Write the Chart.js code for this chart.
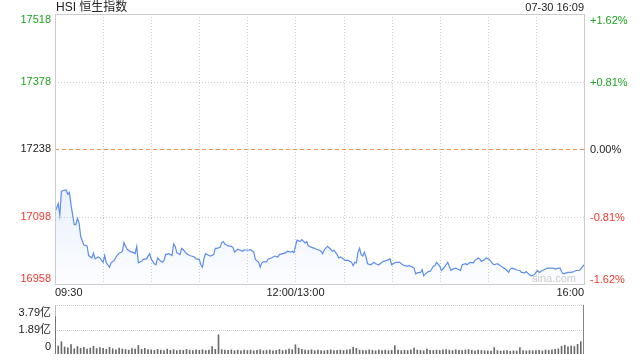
<!DOCTYPE html>
<html><head><meta charset="utf-8">
<script src="https://cdn.jsdelivr.net/npm/chart.js@4.4.1/dist/chart.umd.min.js"></script>
<style>
html,body{margin:0;padding:0;background:#fff;width:640px;height:360px;overflow:hidden}
#c1{position:absolute;left:0;top:0}
#c2{position:absolute;left:0;top:300px}
</style></head><body>
<canvas id="c1" width="640" height="300"></canvas>
<canvas id="c2" width="640" height="60"></canvas>
<script>
const titleText = 'HSI 恒生指数';
const stampText = '07-30 16:09';
const prevClose = 17238;
const priceTicks = [17518, 17378, 17238, 17098, 16958];
const pctTicks = ['+1.62%', '+0.81%', '0.00%', '-0.81%', '-1.62%'];
const timeTickMinutes = [0, 150, 330];
const timeTickLabels = ['09:30', '12:00/13:00', '16:00'];
const volTicks = [3.79, 1.89, 0];
const volTickLabels = ['3.79亿', '1.89亿', '0'];

// trading minutes since 09:30 (lunch break removed) and index level
const minutes = [0,2,3,4,5,7,8,9,10,12,13,14,15,16,18,20,21,23,24,25,27,28,30,31,32,34,35,37,38,40,42,43,45,47,49,50,51,52,54,55,57,59,60,62,63,64,66,67,68,69,71,73,74,75,76,78,79,80,82,84,85,87,88,90,91,92,93,94,96,97,99,100,101,103,104,105,106,108,110,111,112,114,115,117,118,121,122,124,125,127,128,129,130,132,133,135,137,139,140,142,144,145,147,148,149,150,151,153,154,156,157,158,160,162,163,165,166,167,168,170,172,173,174,176,177,178,180,181,183,185,186,187,188,189,190,191,192,193,194,195,197,199,200,202,204,205,207,209,210,212,213,215,216,218,220,221,223,224,225,226,228,229,230,231,233,234,236,237,238,240,241,242,244,245,247,248,250,251,253,254,256,257,259,261,262,264,265,266,268,269,271,273,274,276,277,279,280,282,283,284,285,287,288,290,291,293,294,296,297,299,300,301,302,303,304,306,307,309,311,312,314,315,316,317,319,320,322,324,325,327,328,330];
const prices = [17107,17125,17101,17150,17152,17153,17144,17148,17122,17081,17081,17094,17085,17057,17039,17037,17017,17012,17022,17010,17014,17012,17003,17017,17002,16993,17002,17007,17014,17022,17025,17044,17030,17025,17023,17021,17036,17002,17005,17009,17010,17021,17010,17000,16998,17012,17005,17003,17007,17019,17021,17017,17041,17036,17023,17019,17032,17029,17021,17017,17016,17014,17010,17009,16998,16993,17012,17021,17017,17016,17019,17032,17032,17034,17044,17046,17041,17037,17036,17034,17024,17030,17029,17026,17029,17028,17029,17024,17009,17003,16993,17002,17004,17004,17010,17012,17016,17014,17019,17021,17023,17026,17024,17026,17023,17036,17049,17046,17050,17043,17046,17037,17034,17032,17030,17028,17026,17021,17029,17036,17030,17026,17028,17019,17012,17014,17010,17007,17007,17003,16996,17003,17002,17023,17032,17019,17016,17024,17014,17000,16998,17003,17000,16998,17003,17005,17007,17010,16998,17002,17003,17003,17000,16996,16995,16996,16993,16991,16979,16981,16982,16988,16975,16979,16984,16984,16995,16996,17003,16995,16986,16989,16998,17003,16986,16989,16991,16989,16986,16998,17000,16998,17003,17002,17007,17012,17010,17005,17009,17012,17009,17000,16998,17000,16998,16993,16991,16986,16982,16989,16991,16989,16987,16986,16982,16981,16984,16977,16975,16977,16982,16986,16982,16984,16986,16989,16991,16991,16991,16989,16991,16991,16984,16979,16981,16982,16982,16984,16986,16986,16989,16998];

// volume (亿) every 2 trading minutes from 09:30 to 16:00
const volumes = [
 2.89,0.62,0.95,0.55,0.48,0.72,0.40,0.58,0.45,0.52,0.38,0.47,0.60,0.42,0.50,
 0.44,0.36,0.52,0.41,0.33,0.46,0.39,0.35,0.30,0.42,0.38,0.66,0.36,0.44,0.34,
 0.32,0.28,0.35,0.30,0.27,0.38,0.29,0.33,0.26,0.31,0.28,0.35,0.30,0.27,0.32,
 0.29,0.33,0.27,0.31,0.58,0.36,1.48,0.34,0.30,0.28,0.32,0.26,0.29,0.25,0.31,
 0.27,0.30,0.24,0.28,0.33,0.26,0.29,0.31,0.25,0.28,0.35,0.27,0.30,0.38,0.33,
 0.72,0.45,0.36,0.31,0.28,0.33,0.26,0.30,0.27,0.25,0.29,0.32,0.26,0.28,0.30,
 0.27,0.31,0.35,0.52,0.44,0.30,0.28,0.26,0.32,0.29,0.25,0.31,0.27,0.30,0.26,
 0.28,0.66,0.30,0.26,0.29,0.27,0.33,0.45,0.31,0.28,0.25,0.38,0.29,0.27,0.30,
 0.28,0.32,0.35,0.30,0.27,0.33,0.29,0.26,0.31,0.34,0.28,0.25,0.30,0.27,0.26,
 0.25,0.23,0.50,0.26,0.22,0.24,0.27,0.21,0.25,0.23,0.50,0.26,0.24,0.27,0.25,
 0.26,0.29,0.24,0.31,0.28,0.33,0.36,0.40,0.60,0.68,0.55,0.62,0.58,0.75,0.95,3.79];
const volMinutes = volumes.map((_, i) => i * 2);

const FONT = '"Liberation Sans", Arial, "Noto Sans CJK SC", sans-serif';
const GREEN = '#1fa31f', RED = '#ee3a2c', DARK = '#222';

function crisp(v){ return Math.round(v) + 0.5; }

const mainDecor = {
  id: 'mainDecor',
  beforeDatasetsDraw(chart) {
    const {ctx, chartArea: a, scales: {x, y}} = chart;
    ctx.save();
    ctx.lineWidth = 1;
    ctx.strokeStyle = '#cfcfcf';
    ctx.setLineDash([1, 2]);
    for (let m = 30; m < 330; m += 30) {
      const px = crisp(x.getPixelForValue(m));
      ctx.beginPath(); ctx.moveTo(px, a.top); ctx.lineTo(px, a.bottom); ctx.stroke();
    }
    [priceTicks[1], priceTicks[3]].forEach(v => {
      const py = crisp(y.getPixelForValue(v));
      ctx.beginPath(); ctx.moveTo(a.left, py); ctx.lineTo(a.right, py); ctx.stroke();
    });
    ctx.setLineDash([4, 3]);
    ctx.strokeStyle = '#f39552';
    const pc = crisp(y.getPixelForValue(prevClose));
    ctx.beginPath(); ctx.moveTo(a.left, pc); ctx.lineTo(a.right, pc); ctx.stroke();
    ctx.restore();
  },
  afterDraw(chart) {
    const {ctx, chartArea: a, scales: {x, y}} = chart;
    ctx.save();
    ctx.lineWidth = 1;
    ctx.strokeStyle = '#cccccc';
    ctx.strokeRect(crisp(a.left) , crisp(a.top), Math.round(a.right - a.left), Math.round(a.bottom - a.top));
    // title & stamp
    ctx.textBaseline = 'middle';
    ctx.fillStyle = DARK;
    ctx.font = '12px ' + FONT;
    ctx.textAlign = 'left';
    ctx.fillText(titleText, a.left + 1, 8);
    ctx.font = '11px ' + FONT;
    ctx.textAlign = 'right';
    ctx.fillText(stampText, a.right, 8);
    // price ticks
    priceTicks.forEach((v, i) => {
      let py = y.getPixelForValue(v);
      if (i === 0) py += 6;
      if (i === priceTicks.length - 1) py -= 5;
      const col = v > prevClose ? GREEN : (v < prevClose ? RED : DARK);
      ctx.fillStyle = col;
      ctx.textAlign = 'right';
      ctx.fillText(String(v), a.left - 4, py);
      ctx.textAlign = 'left';
      ctx.fillText(pctTicks[i], a.right + 6, py + 1);
    });
    // time ticks
    ctx.fillStyle = DARK;
    timeTickMinutes.forEach((m, i) => {
      const px = x.getPixelForValue(m);
      ctx.textAlign = i === 0 ? 'left' : (i === timeTickMinutes.length - 1 ? 'right' : 'center');
      ctx.fillText(timeTickLabels[i], px, a.bottom + 9);
    });
    // watermark
    ctx.fillStyle = '#cccccc';
    ctx.font = '11px ' + FONT;
    ctx.textAlign = 'left';
    ctx.fillText('sina.com', 532, a.bottom - 5);
    ctx.restore();
  }
};

new Chart(document.getElementById('c1'), {
  type: 'line',
  data: {
    datasets: [{
      data: minutes.map((m, i) => ({x: m, y: prices[i]})),
      borderColor: '#5b8def',
      borderWidth: 1.2,
      pointRadius: 0,
      tension: 0,
      fill: 'start',
      backgroundColor(context) {
        const {chart} = context;
        const a = chart.chartArea;
        if (!a) return 'rgba(91,141,239,0.08)';
        const top = chart.scales.y.getPixelForValue(Math.max(...prices));
        const g = chart.ctx.createLinearGradient(0, top, 0, a.bottom);
        g.addColorStop(0, 'rgba(91,141,239,0.13)');
        g.addColorStop(1, 'rgba(91,141,239,0.02)');
        return g;
      }
    }]
  },
  options: {
    responsive: false,
    animation: false,
    layout: {padding: {left: 55, right: 56, top: 14, bottom: 16}},
    plugins: {legend: {display: false}, tooltip: {enabled: false}},
    scales: {
      x: {type: 'linear', min: 0, max: 330, display: false},
      y: {min: priceTicks[priceTicks.length - 1], max: priceTicks[0], display: false}
    }
  },
  plugins: [mainDecor]
});

const volDecor = {
  id: 'volDecor',
  beforeDatasetsDraw(chart) {
    const {ctx, chartArea: a, scales: {y}} = chart;
    ctx.save();
    ctx.lineWidth = 1;
    ctx.strokeStyle = '#cfcfcf';
    ctx.setLineDash([1, 1]);
    [volTicks[0], volTicks[1]].forEach(v => {
      const py = crisp(y.getPixelForValue(v));
      ctx.beginPath(); ctx.moveTo(a.left, py); ctx.lineTo(a.right, py); ctx.stroke();
    });
    ctx.setLineDash([]);
    ctx.strokeStyle = '#bbbbbb';
    const lx = crisp(a.left);
    ctx.beginPath(); ctx.moveTo(lx, a.top); ctx.lineTo(lx, a.bottom); ctx.stroke();
    ctx.restore();
  },
  afterDraw(chart) {
    const {ctx, chartArea: a, scales: {y}} = chart;
    ctx.save();
    ctx.font = '11px ' + FONT;
    ctx.fillStyle = DARK;
    ctx.textAlign = 'right';
    ctx.textBaseline = 'middle';
    volTicks.forEach((v, i) => {
      let py = y.getPixelForValue(v);
      if (i === 0) py += 7.5;
      if (i === volTicks.length - 1) py -= 7;
      ctx.fillText(volTickLabels[i], a.left - 4, py);
    });
    ctx.restore();
  }
};

new Chart(document.getElementById('c2'), {
  type: 'bar',
  data: {
    datasets: [{
      data: volMinutes.map((m, i) => ({x: m, y: volumes[i]})),
      backgroundColor: '#6a6a6a',
      barThickness: 1,
      borderWidth: 0
    }]
  },
  options: {
    responsive: false,
    animation: false,
    layout: {padding: {left: 55, right: 56, top: 5, bottom: 6}},
    plugins: {legend: {display: false}, tooltip: {enabled: false}},
    scales: {
      x: {type: 'linear', min: 0, max: 330, display: false, offset: false},
      y: {min: 0, max: volTicks[0], display: false}
    }
  },
  plugins: [volDecor]
});
</script>
</body></html>
